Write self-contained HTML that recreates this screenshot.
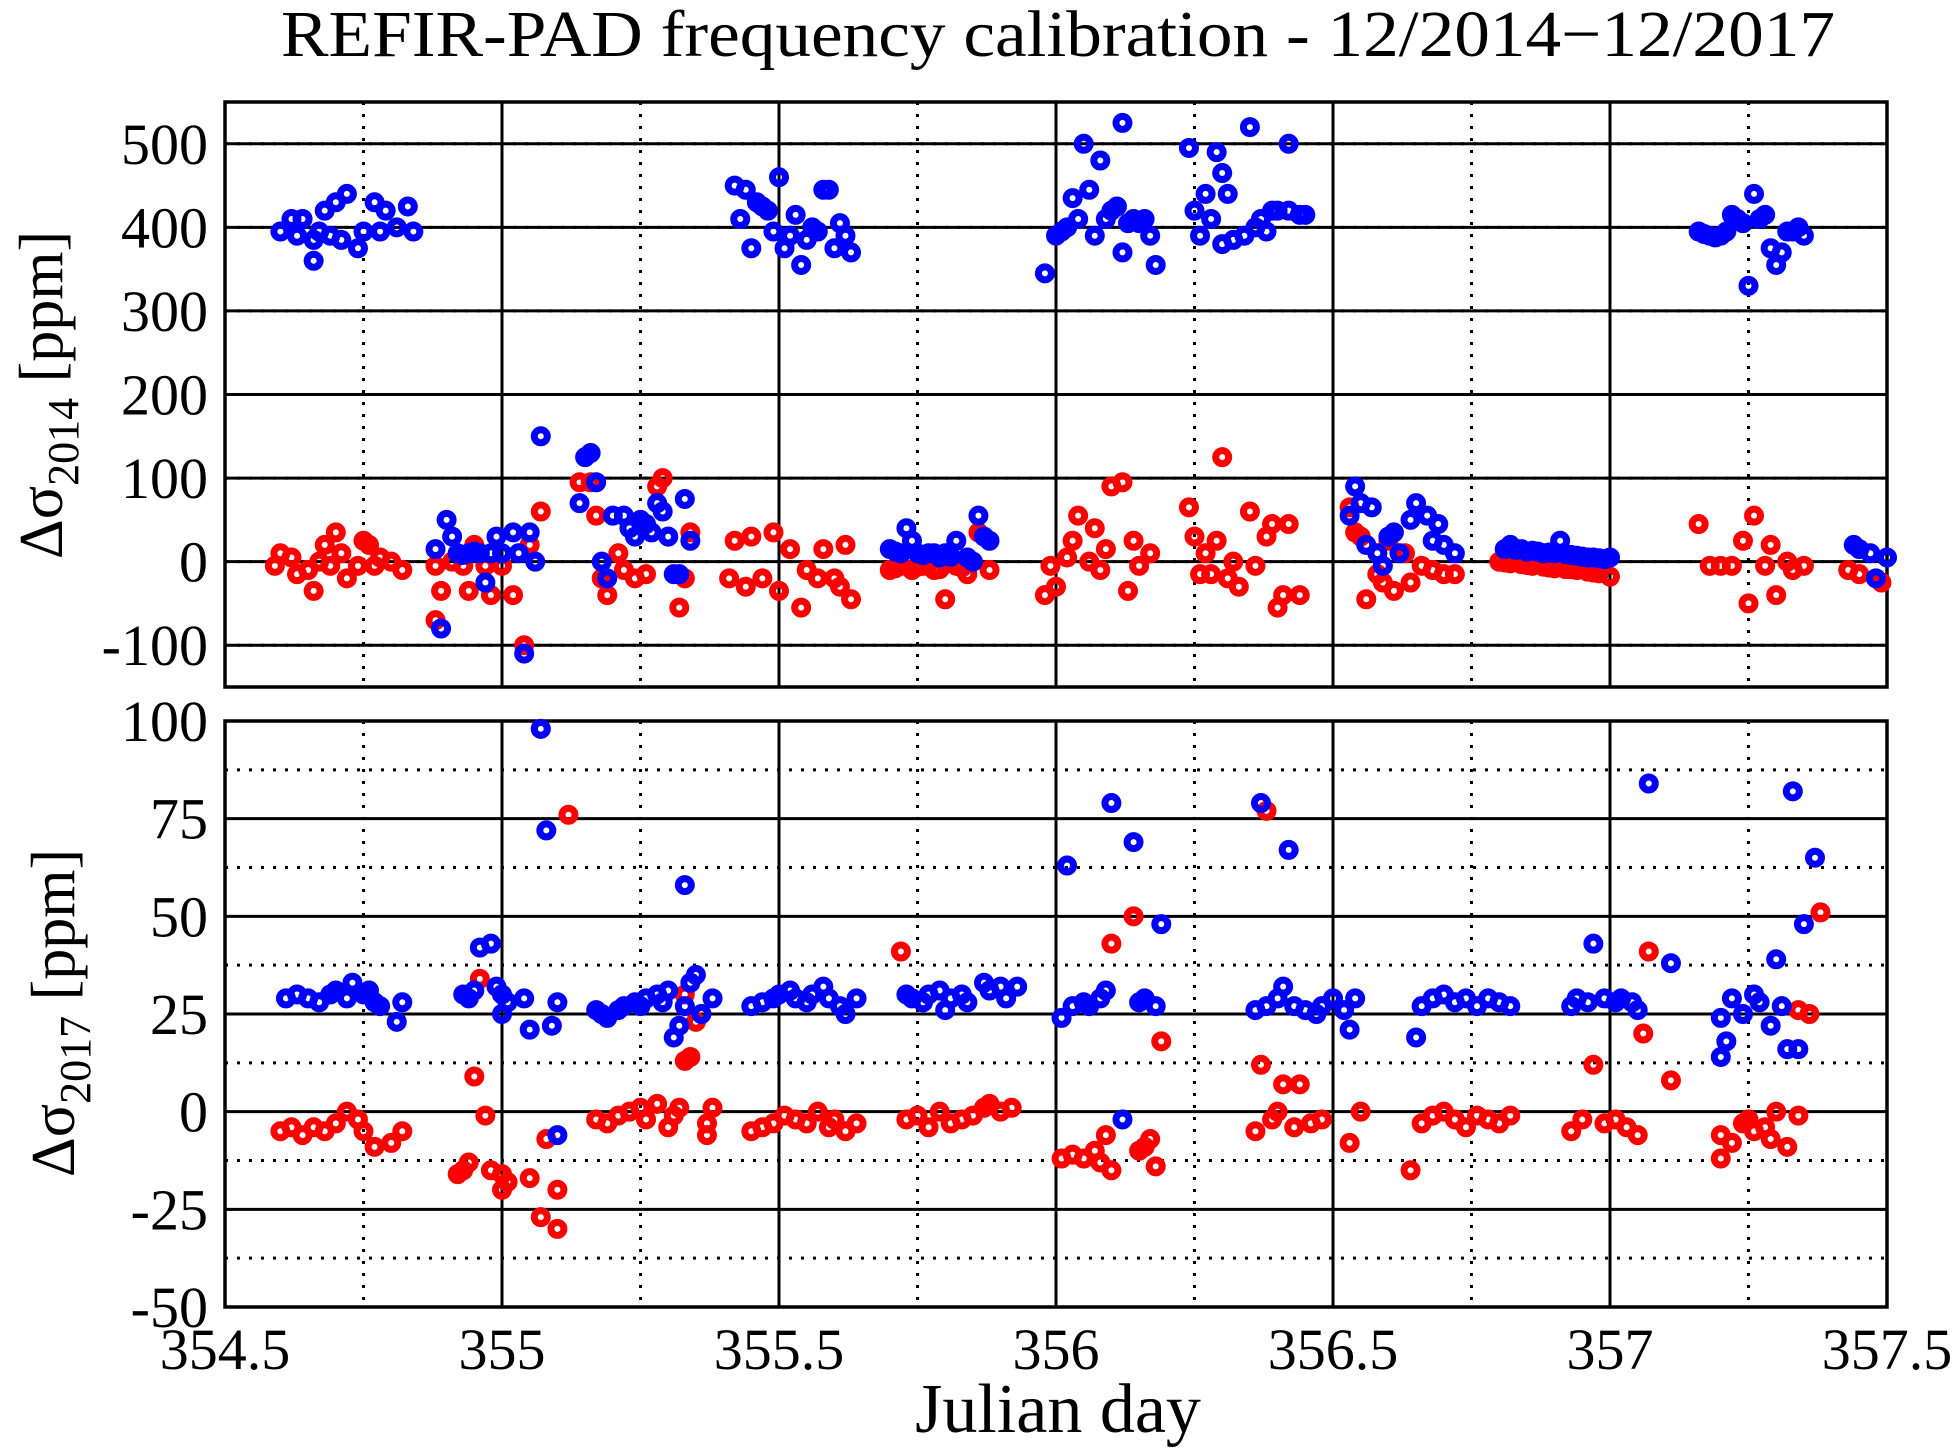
<!DOCTYPE html>
<html><head><meta charset="utf-8"><style>
html,body{margin:0;padding:0;background:#fff;}
svg{display:block;font-family:"Liberation Serif",serif;}
</style></head><body>
<svg id="chart" width="1960" height="1454" viewBox="0 0 1960 1454" xmlns="http://www.w3.org/2000/svg">
<text x="1058" y="56" font-size="66" text-anchor="middle" textLength="1554" lengthAdjust="spacingAndGlyphs">REFIR-PAD frequency calibration - 12/2014−12/2017</text>
<text x="1058" y="1432" font-size="70" text-anchor="middle">Julian day</text>
<text transform="translate(62,395) rotate(-90)" font-size="62" text-anchor="middle">Δσ<tspan font-size="44" dy="16">2014</tspan><tspan dy="-16"> [ppm]</tspan></text>
<text transform="translate(74,1013) rotate(-90)" font-size="62" text-anchor="middle">Δσ<tspan font-size="44" dy="16">2017</tspan><tspan dy="-16"> [ppm]</tspan></text>
</svg>
<script>
const xTicks=[354.5,355,355.5,356,356.5,357,357.5];
const xTickLabels=["354.5","355","355.5","356","356.5","357","357.5"];
const topYTicks=[-100,0,100,200,300,400,500];
const topYLabels=["-100","0","100","200","300","400","500"];
const botYTicks=[-50,-25,0,25,50,75,100];
const botYLabels=["-50","-25","0","25","50","75","100"];
const topBlueDays=[354.6,354.62,354.64,354.63,354.66,354.67,354.66,354.69,354.68,354.7,354.72,354.71,354.74,354.75,354.77,354.78,354.79,354.81,354.83,354.84,
354.88,354.9,354.91,354.89,354.92,354.94,354.96,354.98,354.97,354.99,355.0,355.02,355.04,355.05,355.06,355.07,355.03,354.93,354.95,
355.14,355.15,355.16,355.17,355.18,355.19,355.2,355.22,355.23,355.24,355.25,355.26,355.27,355.28,355.29,355.3,355.31,355.32,355.33,355.34,
355.42,355.43,355.44,355.45,355.46,355.47,355.48,355.49,355.5,355.51,355.52,355.53,355.54,355.55,355.56,355.57,355.58,355.59,355.6,355.61,355.62,355.63,
355.7,355.72,355.73,355.74,355.75,355.77,355.79,355.8,355.82,355.84,355.86,355.87,355.88,355.85,355.71,355.76,355.78,355.81,
355.98,356.0,356.01,356.02,356.03,356.04,356.05,356.06,356.07,356.08,356.09,356.1,356.11,356.12,356.13,356.14,356.12,356.15,356.16,356.17,356.18,
356.24,356.25,356.26,356.27,356.28,356.29,356.3,356.31,356.3,356.32,356.35,356.34,356.36,356.37,356.38,356.39,356.4,356.42,356.42,356.44,356.45,
356.53,356.54,356.55,356.57,356.56,356.58,356.6,356.61,356.59,356.62,356.64,356.65,356.67,356.68,356.69,356.7,356.72,
356.81,356.82,356.83,356.84,356.85,356.86,356.87,356.88,356.89,356.9,356.91,356.92,356.93,356.94,356.95,356.96,356.97,356.98,356.99,357.0,
357.16,357.17,357.18,357.19,357.2,357.21,357.22,357.23,357.24,357.25,357.26,357.27,357.28,357.29,357.3,357.31,357.32,357.33,357.34,357.35,
357.44,357.45,357.47,357.48,357.5];
const topBlueVals=[395,410,410,390,385,395,360,390,420,430,440,385,375,395,430,395,420,400,425,395,
15,50,30,-80,10,10,10,10,-25,30,10,35,-110,35,0,150,10,8,12,
70,125,130,95,0,-20,55,55,40,30,50,45,35,70,60,30,-15,-15,75,25,
450,410,445,375,430,425,420,395,460,375,390,415,355,385,400,395,445,445,375,405,390,370,
15,10,40,25,10,10,5,10,25,5,55,30,25,0,12,8,10,6,
345,390,395,400,435,410,500,445,390,480,410,420,425,370,405,410,525,405,410,390,355,
495,420,390,440,410,490,465,440,380,385,520,390,400,410,395,420,420,500,420,415,415,
55,90,70,65,20,10,30,35,-5,10,50,70,55,25,45,20,10,
15,20,14,15,12,13,12,10,11,10,25,9,8,7,6,5,5,4,3,5,
395,392,390,388,390,395,415,410,405,330,440,410,415,375,355,370,395,395,400,390,
20,15,10,-20,5];
const topRedDays=[354.59,354.6,354.62,354.63,354.65,354.66,354.67,354.68,354.69,354.7,354.71,354.72,354.74,354.75,354.76,354.77,354.78,354.8,354.82,
354.88,354.88,354.89,354.91,354.93,354.94,354.95,354.97,354.98,355.0,355.02,355.04,355.05,355.07,
355.14,355.16,355.17,355.18,355.19,355.21,355.22,355.24,355.26,355.28,355.29,355.3,355.32,355.33,355.34,
355.41,355.42,355.44,355.45,355.47,355.49,355.5,355.52,355.54,355.55,355.57,355.58,355.6,355.61,355.62,355.63,
355.7,355.72,355.74,355.76,355.78,355.8,355.82,355.84,355.86,355.88,355.71,355.75,355.79,355.83,
355.98,355.99,356.0,356.02,356.03,356.04,356.06,356.07,356.08,356.09,356.1,356.12,356.13,356.14,356.15,356.17,
356.24,356.25,356.26,356.27,356.28,356.29,356.3,356.31,356.32,356.33,356.35,356.36,356.38,356.39,356.4,356.41,356.42,356.44,
356.53,356.54,356.55,356.56,356.58,356.59,356.6,356.61,356.63,356.64,356.66,356.68,356.7,356.72,
356.8,356.82,356.84,356.86,356.88,356.9,356.92,356.94,356.96,356.98,357.0,356.81,356.85,356.89,356.93,356.97,
357.16,357.18,357.2,357.22,357.24,357.25,357.26,357.28,357.29,357.3,357.32,357.33,357.35,
357.43,357.45,357.49];
const topRedVals=[-5,10,5,-15,-10,-35,0,20,-5,35,10,-20,-5,25,20,-5,5,0,-10,
-5,-70,-35,0,-5,-35,20,-5,-40,-5,-40,-100,20,60,
95,95,55,-20,-40,10,-10,-20,-15,90,100,30,-55,-20,35,
-20,25,-30,30,-20,35,-35,15,-55,-10,-20,15,-20,-30,20,-45,
-10,-5,-10,-5,-10,-45,-5,-15,35,-10,-8,-6,-9,-7,
-40,-5,-30,5,25,55,0,40,-10,15,90,95,-35,25,-5,10,
65,30,-15,10,-15,25,125,-20,0,-30,60,-5,30,45,-55,-40,45,-40,
65,35,30,-45,-15,-25,25,-35,10,-25,-5,-10,-15,-15,
0,-2,-3,-5,-6,-8,-9,-10,-12,-14,-18,-1,-4,-7,-9,-13,
45,-5,-5,-5,25,-50,55,-5,20,-40,0,-10,-5,
-10,-15,-25];
const botBlueDays=[354.61,354.63,354.65,354.67,354.69,354.7,354.72,354.73,354.75,354.77,354.76,354.78,354.81,354.82,
354.93,354.94,354.95,354.96,354.98,354.99,355.0,355.01,355.0,355.04,355.05,355.07,355.08,355.1,355.09,355.1,
355.17,355.18,355.19,355.21,355.22,355.24,355.25,355.26,355.28,355.29,355.3,355.31,355.32,355.33,355.34,355.35,355.33,355.36,355.38,
355.45,355.47,355.49,355.5,355.52,355.53,355.55,355.56,355.58,355.59,355.61,355.62,355.64,
355.73,355.74,355.76,355.77,355.79,355.8,355.81,355.83,355.84,355.87,355.88,355.9,355.91,355.93,
356.01,356.03,356.05,356.06,356.08,356.09,356.02,356.1,356.12,356.14,356.15,356.16,356.18,356.19,
356.36,356.38,356.4,356.41,356.43,356.37,356.42,356.45,356.47,356.48,356.5,356.52,356.53,356.54,
356.65,356.66,356.68,356.7,356.72,356.74,356.76,356.78,356.8,356.82,
356.93,356.94,356.96,356.97,356.99,357.01,357.02,357.04,357.05,357.07,357.11,
357.2,357.2,357.21,357.22,357.24,357.26,357.27,357.29,357.3,357.31,357.32,357.34,357.33,357.35,357.37];
const botBlueVals=[29,30,29,28,30,31,29,33,30,28,31,27,23,28,
30,29,31,42,43,32,30,28,25,29,21,98,72,28,22,-6,
26,25,24,26,27,28,27,29,30,28,31,19,22,27,33,35,58,25,29,
27,28,29,30,31,29,28,30,32,29,27,25,29,
30,29,28,30,31,26,29,30,28,33,31,32,29,32,
24,27,28,27,29,31,63,79,-2,69,28,29,27,48,
26,27,29,32,27,79,67,26,25,27,29,26,21,29,
19,27,29,30,28,29,27,29,28,27,
27,29,28,43,29,28,29,28,26,84,38,
24,14,18,29,25,30,28,22,39,27,16,16,82,48,65];
const botRedDays=[354.6,354.62,354.64,354.66,354.68,354.7,354.72,354.74,354.75,354.77,354.8,354.82,
354.92,354.93,354.94,354.95,354.96,354.97,354.98,355.0,355.01,355.0,355.05,355.07,355.07,355.08,355.1,355.1,355.12,
355.17,355.19,355.21,355.23,355.25,355.26,355.28,355.3,355.31,355.32,355.33,355.34,355.35,355.33,355.37,355.37,355.38,
355.45,355.47,355.49,355.51,355.53,355.55,355.57,355.59,355.6,355.62,355.64,
355.72,355.73,355.75,355.77,355.79,355.81,355.83,355.85,355.87,355.88,355.9,355.92,
356.01,356.03,356.05,356.07,356.08,356.09,356.1,356.1,356.14,356.15,356.16,356.17,356.18,356.19,
356.36,356.37,356.38,356.39,356.4,356.41,356.43,356.44,356.46,356.48,356.53,356.55,
356.64,356.66,356.68,356.7,356.72,356.74,356.76,356.78,356.8,356.82,
356.93,356.95,356.97,356.99,357.01,357.03,357.05,357.06,357.07,357.11,
357.2,357.2,357.22,357.24,357.25,357.26,357.28,357.29,357.3,357.32,357.34,357.34,357.36,357.38];
const botRedVals=[-5,-4,-6,-4,-5,-3,0,-2,-5,-9,-8,-5,
-16,-15,-13,9,34,-1,-15,-16,-18,-20,-17,-27,98,-7,-30,-20,76,
-2,-3,-1,0,1,-2,2,-4,-1,1,13,14,23,30,-6,-3,1,
-5,-4,-3,-1,-2,-3,0,-4,-2,-5,-3,
41,-2,-1,-4,0,-3,-2,-1,1,2,0,1,
-12,-11,-12,-10,-13,-6,-15,43,50,-10,-9,-7,-14,18,
-5,12,77,-2,0,7,-4,7,-3,-2,-8,0,
-15,-3,-1,0,-2,-4,-1,-2,-3,-1,
-5,-2,12,-3,-2,-4,-6,20,41,8,
-6,-12,-8,-3,-2,-5,-4,-7,0,-9,-1,26,25,51];

const NS="http://www.w3.org/2000/svg";
const svg=document.getElementById('chart');
const L=225,R=1887;
const topP={t:102,b:687,min:-150,max:550};
const botP={t:721,b:1307,min:-50,max:100};
function xs(d){return L+(d-354.5)/3*(R-L);}
function ys(p,v){return p.b-(v-p.min)/(p.max-p.min)*(p.b-p.t);}
function mk(tag,attrs,parent){const e=document.createElementNS(NS,tag);for(const k in attrs)e.setAttribute(k,attrs[k]);(parent||svg).appendChild(e);return e;}

function panel(p,name,yt,yl,minorStep,reds,redv,blues,bluev){
  const g=mk('g',{});
  
  
  for(let i=0;i<xTicks.length-1;i++){
    const xm=xs((xTicks[i]+xTicks[i+1])/2);
    const l=mk('line',{x1:xm,x2:xm,y1:p.t,y2:p.b,stroke:'#000','stroke-width':3,'stroke-dasharray':'3 9'},g);
    
    
  }
  for(let v=p.min+minorStep;v<p.max;v+=minorStep*2){
    const y=ys(p,v);
    const l=mk('line',{x1:L,x2:R,y1:y,y2:y,stroke:'#000','stroke-width':3,'stroke-dasharray':'3 9'},g);
    
    
  }
  xTicks.forEach(d=>{
    const x=xs(d);
    const l=mk('line',{x1:x,x2:x,y1:p.t,y2:p.b,stroke:'#000','stroke-width':3},g);
    
    
  });
  yt.forEach((v,i)=>{
    const y=ys(p,v);
    const l=mk('line',{x1:L,x2:R,y1:y,y2:y,stroke:'#000','stroke-width':3},g);
    
    
    const t=mk('text',{x:208,y:y+20,'font-size':58,'text-anchor':'end'},g);
    t.textContent=yl[i];
    
    
  });
  const f=mk('rect',{x:L,y:p.t,width:R-L,height:p.b-p.t,fill:'none',stroke:'#000','stroke-width':3.5},g);
  
  
  reds.forEach((d,i)=>{
    const c=mk('circle',{cx:xs(d),cy:ys(p,redv[i]),r:6.5,fill:'none',stroke:'#ff0000','stroke-width':7},g);
    
    
  });
  blues.forEach((d,i)=>{
    const c=mk('circle',{cx:xs(d),cy:ys(p,bluev[i]),r:6.5,fill:'none',stroke:'#0000ff','stroke-width':7},g);
    
    
  });
}
panel(topP,'top-panel',topYTicks,topYLabels,50,topRedDays,topRedVals,topBlueDays,topBlueVals);
panel(botP,'bottom-panel',botYTicks,botYLabels,12.5,botRedDays,botRedVals,botBlueDays,botBlueVals);
xTicks.forEach((d,i)=>{
  const t=mk('text',{x:xs(d),y:1369,'font-size':58,'text-anchor':'middle'});
  t.textContent=xTickLabels[i];
  
  
});
</script>
</body></html>
